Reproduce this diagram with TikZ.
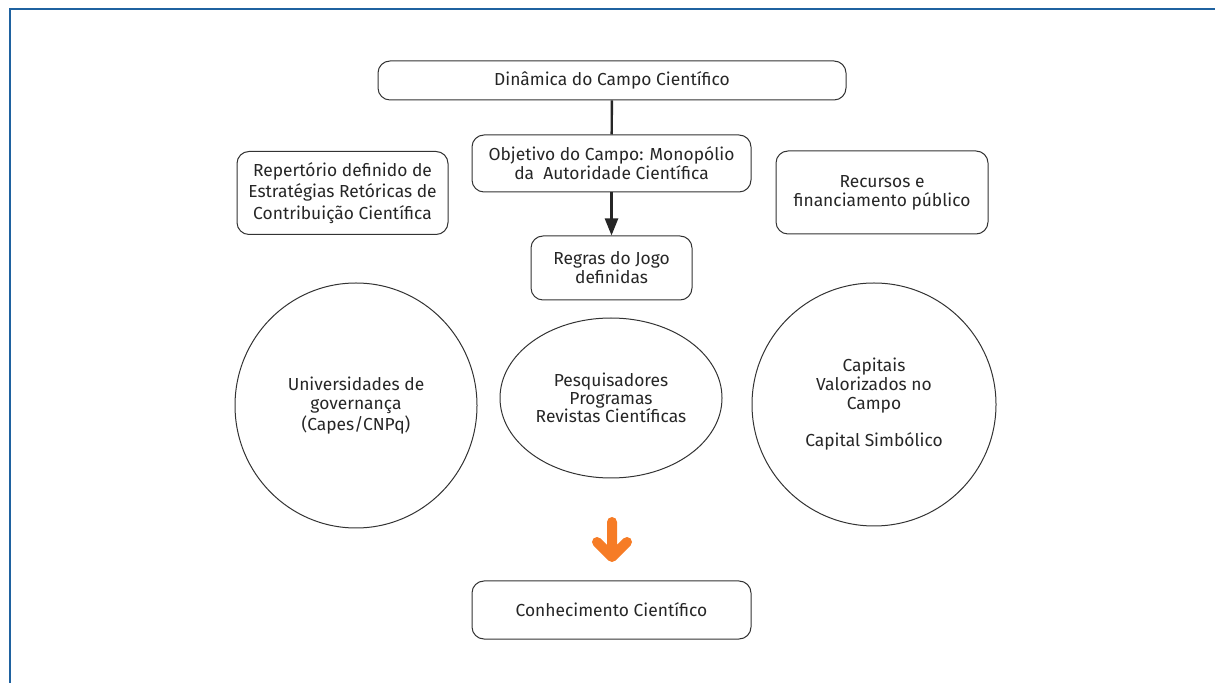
\documentclass[tikz,border=0pt]{standalone}
\usepackage{fontspec}
\setmainfont{Fira Sans}
\usetikzlibrary{shapes.geometric,arrows.meta}
\definecolor{framecol}{RGB}{31,98,160}
\definecolor{arrowcol}{RGB}{246,124,38}
\tikzset{
  box/.style={draw=black!80, line width=0.5pt, rounded corners=6pt, align=center, inner sep=0pt, text=black!85, font=\fontsize{8.7}{9.5}\selectfont},
  circ/.style={draw=black!80, line width=0.5pt, ellipse, align=center, inner sep=0pt, text=black!85, font=\fontsize{8.7}{9.4}\selectfont}
}
\begin{document}
\begin{tikzpicture}[x=0.5pt, y=-0.5pt]
\useasboundingbox (0,0) rectangle (1215,683);
\draw[framecol, line width=1pt] (10,683) -- (10,9) -- (1215,9);
\node[box, minimum width=234pt, minimum height=19.5pt] (dinamica) at (612,80.5) {Dinâmica do Campo Científico};
\node[box, minimum width=139.5pt, minimum height=28.5pt] (objetivo) at (611.5,163.5) {Objetivo do Campo: Monopólio\\da~ Autoridade Científica};
\node[box, minimum width=105.5pt, minimum height=41.5pt, font=\fontsize{8.7}{10.6}\selectfont] (repertorio) at (342.5,193) {Repertório definido de\\Estratégias Retóricas de\\Contribuição Científica};
\node[box, minimum width=106pt, minimum height=41.5pt] (recursos) at (882,192.5) {Recursos e\\financiamento público};
\node[box, minimum width=80.5pt, minimum height=32pt] (regras) at (611.5,268) {Regras do Jogo\\definidas};
\node[circ, minimum width=121pt, minimum height=122.5pt] (univ) at (356,405.5) {Universidades de\\governança\\(Capes/CNPq)};
\node[circ, minimum width=111pt, minimum height=80pt, font=\fontsize{8.7}{8.9}\selectfont] (pesq) at (611,398) {Pesquisadores\\Programas\\Revistas Científicas};
\node[circ, minimum width=122pt, minimum height=121.5pt] (capitais) at (874,404.5) {Capitais\\Valorizados no\\Campo\\[9.3pt]Capital Simbólico};
\node[box, minimum width=139.5pt, minimum height=29pt] (conhec) at (611.5,610) {Conhecimento Científico};
\draw[black!85, line width=1.2pt] (dinamica) -- (objetivo);
\draw[-{Triangle[length=8.5pt, width=6.5pt]}, black!85, line width=1.2pt] (objetivo) -- (regras);
% orange arrow
\coordinate (otop) at (612,522);
\coordinate (otip) at (612,557);
\draw[arrowcol, line width=5pt, line cap=round, line join=round] (otop) -- (otip) (597,542) -- (otip) -- (627,542);
\end{tikzpicture}
\end{document}
